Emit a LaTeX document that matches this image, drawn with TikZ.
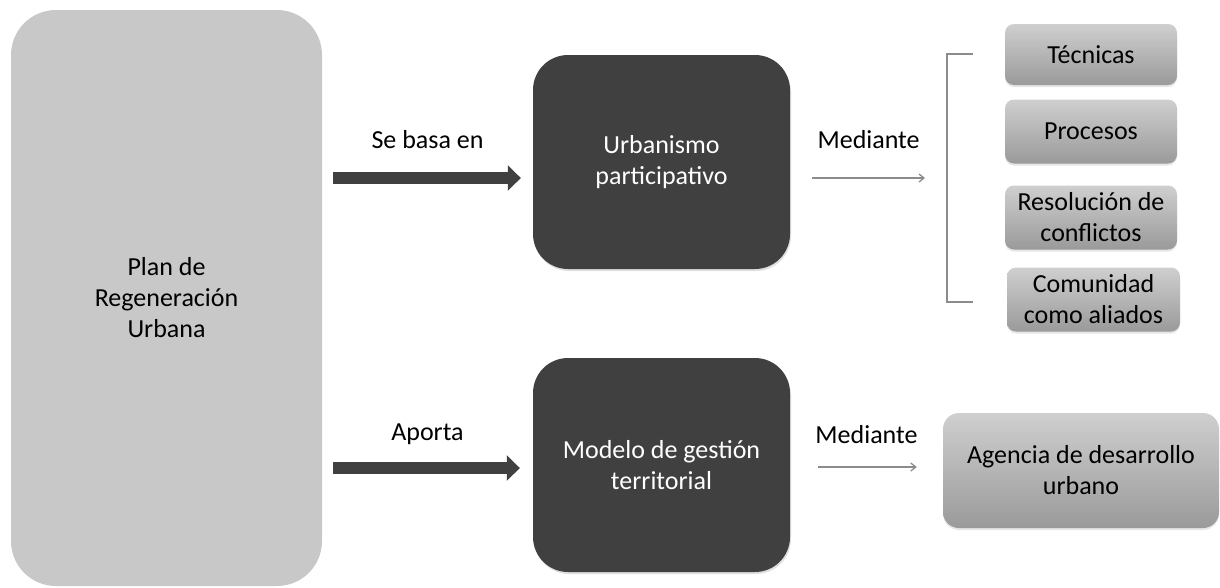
\documentclass[tikz,border=0pt]{standalone}
\usepackage{fontspec}
\setmainfont{Carlito}
\usetikzlibrary{arrows.meta,shadows,positioning}

\definecolor{plangray}{HTML}{C8C8C8}
\definecolor{boxdark}{HTML}{404040}
\definecolor{boxtop}{HTML}{CFCFCF}
\definecolor{boxbot}{HTML}{9A9A9A}
\definecolor{linegray}{HTML}{8C8C8C}

\tikzset{
    every node/.style={font=\fontsize{26}{31}\selectfont, align=center},
    planbox/.style={rounded corners=45pt, fill=plangray,
        minimum width=311pt, minimum height=576pt},
    darkbox/.style={rounded corners=35pt, fill=boxdark, text=white,
        minimum width=257pt, minimum height=214pt,
        drop shadow={opacity=0.25, shadow xshift=1pt, shadow yshift=-2pt}},
    itembox/.style={rounded corners=9pt, top color=boxtop, bottom color=boxbot,
        minimum width=172pt, minimum height=64pt, inner sep=0pt,
        drop shadow={opacity=0.2, shadow xshift=0pt, shadow yshift=-2pt}},
    bigarrow/.style={line width=12pt, draw=boxdark,
        -{Triangle[length=13pt,width=25pt]}},
    thinarrow/.style={line width=1.3pt, draw=linegray,
        -{Straight Barb[length=5pt,width=8pt]}},
    armlabel/.style={inner sep=0pt, text depth=0pt},
    }

\begin{document}
\begin{tikzpicture}[x=1pt,y=-1pt]
\useasboundingbox (0,0) rectangle (1220,587);

% main blocks
\node[planbox] (plan) at (166.5,298) {Plan de\\Regeneración\\Urbana};
\node[darkbox] (urb) at (661.5,162) {\fontsize{26}{33}\selectfont Urbanismo\\participativo};
\node[darkbox] (modelo) at (661.5,465) {Modelo de gestión\\territorial};

% means
\node[itembox, minimum height=61pt] (tecnicas) at (1091,54.5) {Técnicas};
\node[itembox] (procesos) at (1091,131.5) {Procesos};
\node[itembox] (resolucion) at (1091,217.5) {Resolución de\\conflictos};
\node[itembox, minimum width=173pt] (comunidad) at (1093.5,299.5) {Comunidad\\como aliados};
\node[itembox, rounded corners=16pt, minimum width=276pt, minimum height=115pt] (agencia) at (1081,470.5) {Agencia de desarrollo\\urbano};

% bracket
\coordinate (brtop) at (973,54);
\coordinate (brbot) at (973,302);
\coordinate (brmid) at (947,178);
\draw[linegray, line width=1.5pt] (brtop) -- ++(-26,0) |- (brbot);

% arrows
\draw[bigarrow, shorten <=11pt, shorten >=12pt] ([yshift=-16pt]plan.east |- urb.west) -- ([yshift=-16pt]urb.west)
    node[armlabel, midway, above=24pt] {Se basa en};
\draw[bigarrow, shorten <=11pt, shorten >=13pt] ([yshift=-3pt]plan.east |- modelo.west) -- ([yshift=-3pt]modelo.west)
    node[armlabel, midway, above=22pt] {Aporta};
\draw[thinarrow, shorten <=22pt, shorten >=22pt] (urb.east |- brmid) -- (brmid)
    node[armlabel, midway, above=29pt] {Mediante};
\draw[thinarrow, shorten <=28pt, shorten >=26pt] ([yshift=-2pt]modelo.east) -- ([yshift=-2pt]modelo.east -| agencia.west)
    node[armlabel, midway, above=23pt] {Mediante};
\end{tikzpicture}
\end{document}
